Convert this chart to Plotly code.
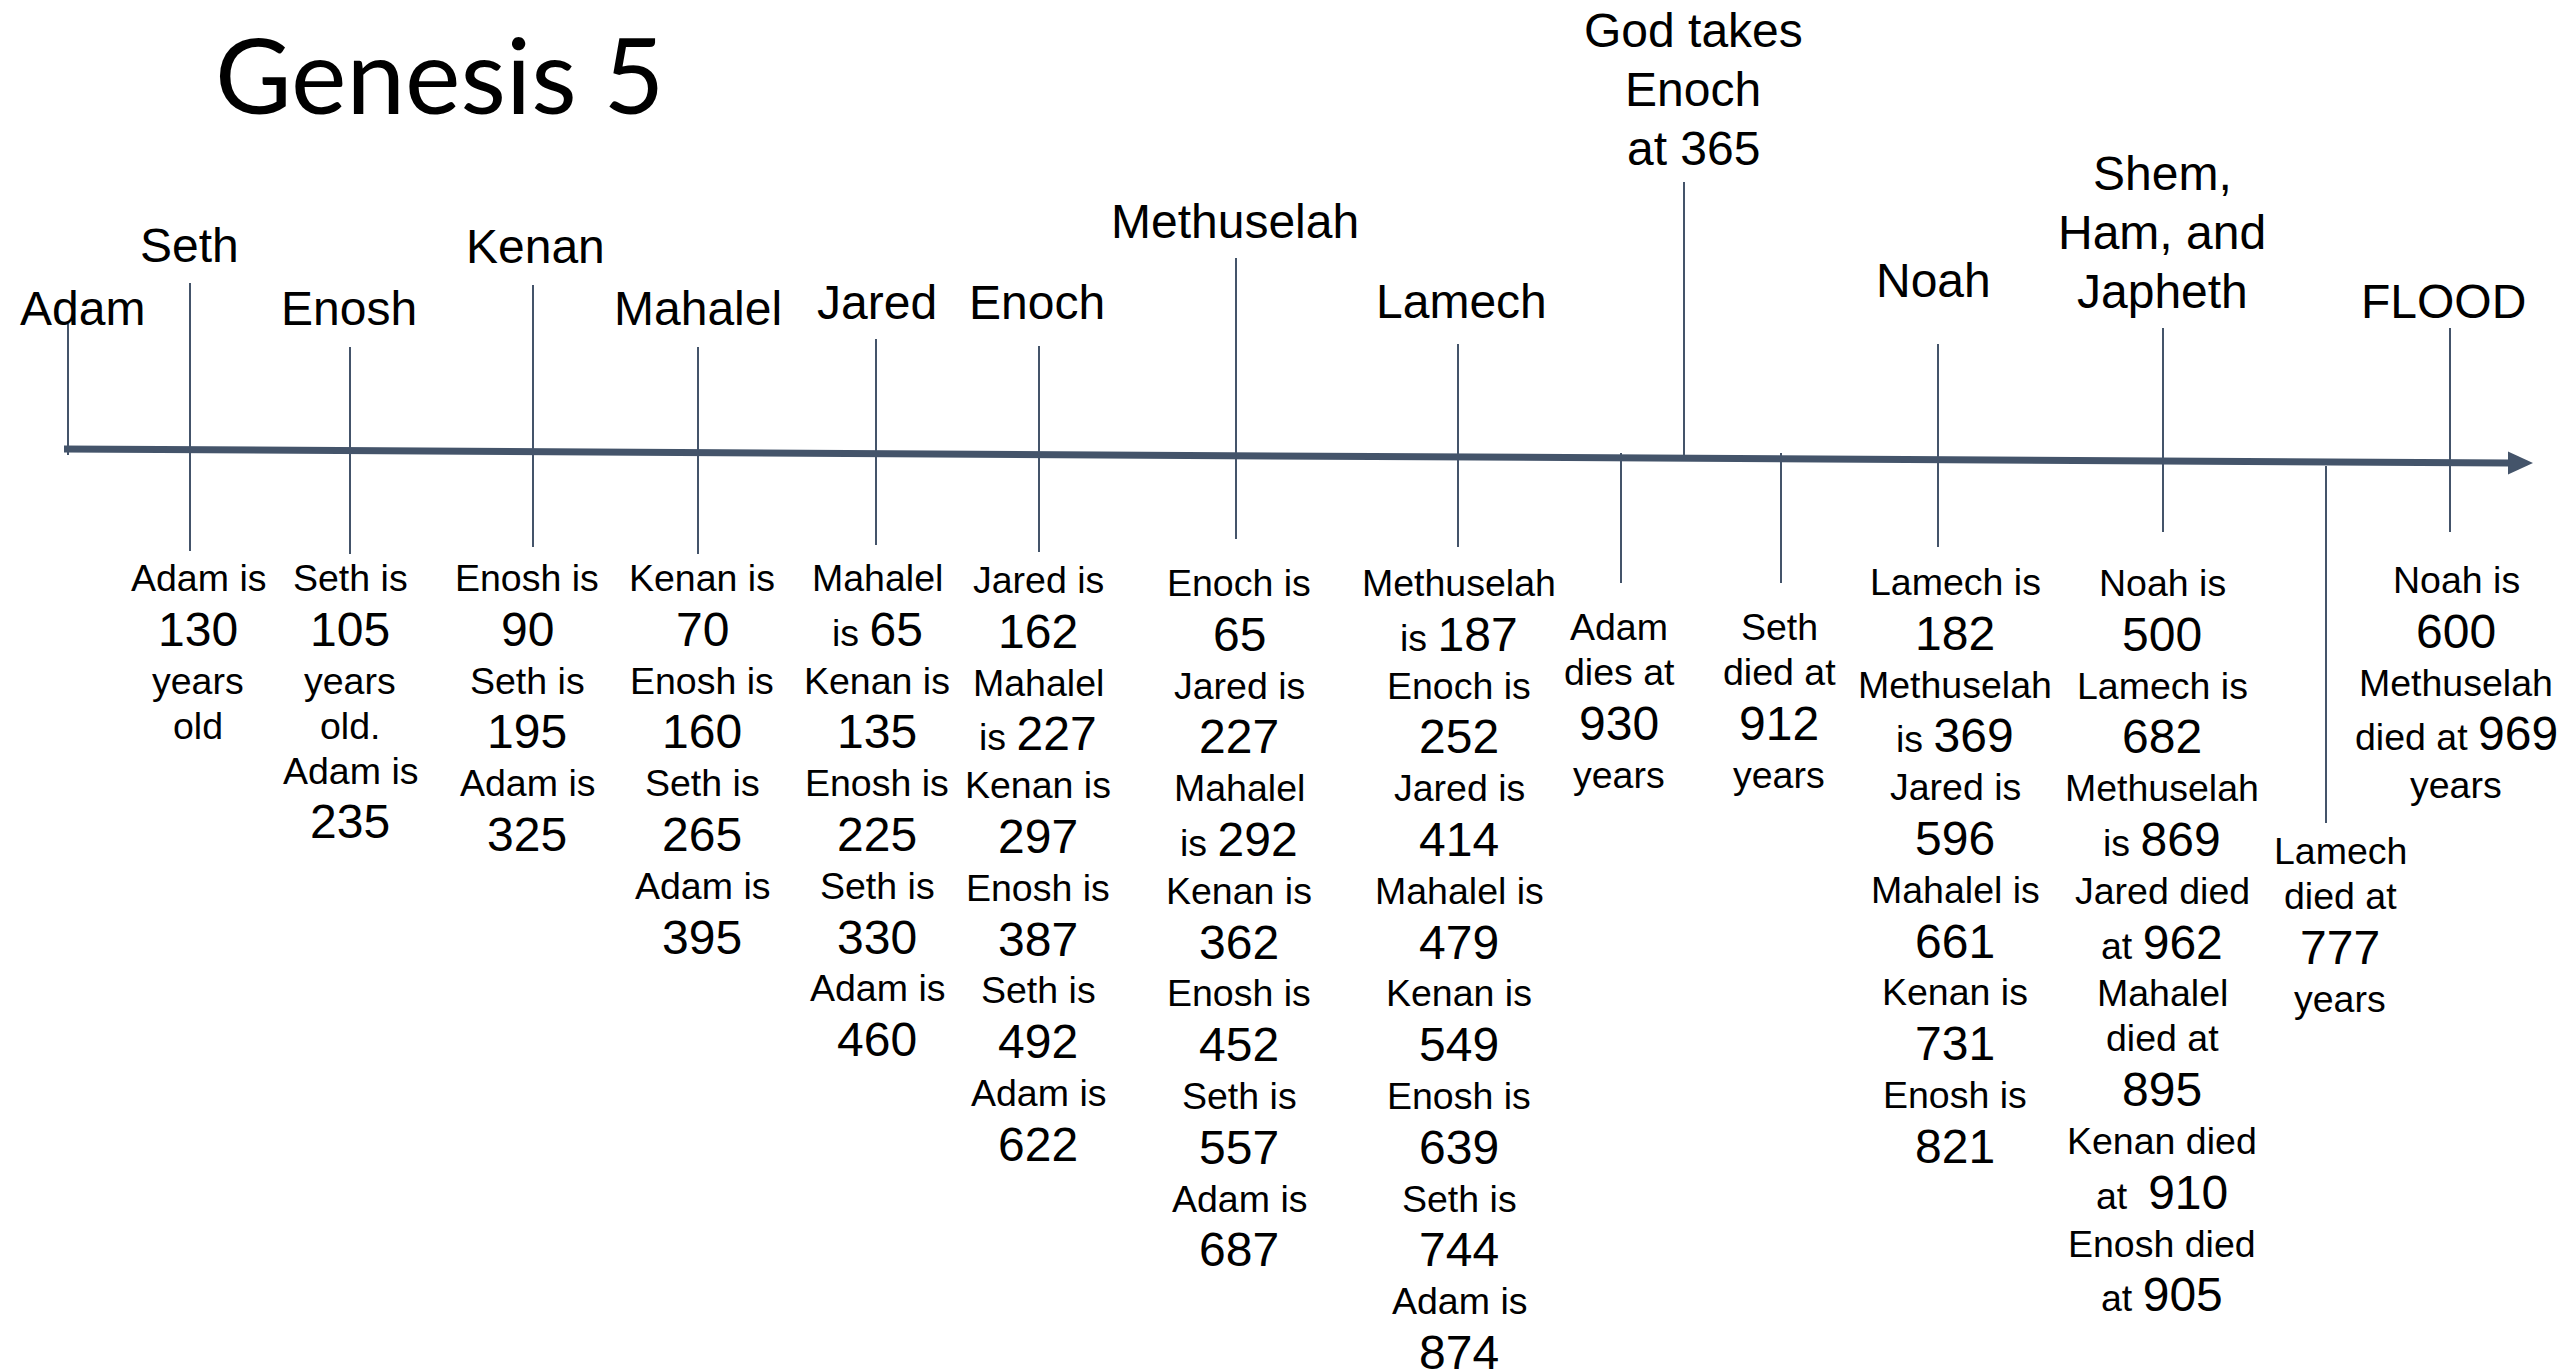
import re
import plotly.graph_objects as go

# ---------------- data ----------------
title_text = "Genesis 5"

# label written above each tick of the timeline ("" = none)
event_labels = [
    "Adam", "Seth", "Enosh", "Kenan", "Mahalel", "Jared", "Enoch", "Methuselah",
    "Lamech", "", "God takes|Enoch|at 365", "", "Noah", "Shem,|Ham, and|Japheth",
    "", "FLOOD",
]

# notes written below each tick (one string per text line)
event_notes = [
    [],
    ["Adam is", "130", "years", "old"],
    ["Seth is", "105", "years", "old.", "Adam is", "235"],
    ["Enosh is", "90", "Seth is", "195", "Adam is", "325"],
    ["Kenan is", "70", "Enosh is", "160", "Seth is", "265", "Adam is", "395"],
    ["Mahalel", "is 65", "Kenan is", "135", "Enosh is", "225", "Seth is", "330",
     "Adam is", "460"],
    ["Jared is", "162", "Mahalel", "is 227", "Kenan is", "297", "Enosh is", "387",
     "Seth is", "492", "Adam is", "622"],
    ["Enoch is", "65", "Jared is", "227", "Mahalel", "is 292", "Kenan is", "362",
     "Enosh is", "452", "Seth is", "557", "Adam is", "687"],
    ["Methuselah", "is 187", "Enoch is", "252", "Jared is", "414", "Mahalel is", "479",
     "Kenan is", "549", "Enosh is", "639", "Seth is", "744", "Adam is", "874"],
    ["Adam", "dies at", "930", "years"],
    [],
    ["Seth", "died at", "912", "years"],
    ["Lamech is", "182", "Methuselah", "is 369", "Jared is", "596", "Mahalel is", "661",
     "Kenan is", "731", "Enosh is", "821"],
    ["Noah is", "500", "Lamech is", "682", "Methuselah", "is 869", "Jared died",
     "at 962", "Mahalel", "died at", "895", "Kenan died", "at\u00a0 910",
     "Enosh died", "at 905"],
    ["Lamech", "died at", "777", "years"],
    ["Noah is", "600", "Methuselah", "died at 969", "years"],
]

# ---------------- layout (slide geometry, px) ----------------
W, H = 2557, 1370
tick_x      = [68, 190, 350, 533, 698, 876, 1039, 1236, 1458, 1621, 1684, 1781, 1938, 2163, 2326, 2450]
tick_top    = [324, 283, 347, 285, 347, 339, 346, 258, 344, 453, 182, 453, 344, 328, 466, 328]
tick_bottom = [455, 551, 554, 547, 554, 545, 552, 539, 547, 583, 455, 583, 547, 532, 823, 532]
label_x  = [82, 189, 349, 535, 698, 877, 1037, 1235, 1461, None, 1693, None, 1933, 2162, None, 2443]
label_y0 = [308, 245, 308, 246, 308, 302, 302, 221, 301, None, 30, None, 280, 173, None, 301]
note_x  = [None, 198, 350, 527, 702, 877, 1038, 1239, 1459, 1619, None, 1779, 1955, 2162, 2340, 2456]
note_y0 = [None, 578, 578, 578, 578, 578, 580, 583, 583, 627, None, 627, 582, 583, 851, 580]

axis_start = (64, 449)
axis_end = (2509, 463)
arrow_len, arrow_half = 24, 11.5

LINE_COLOR = "#44546A"
TXT_FONT = "Liberation Sans, Arial, sans-serif"
BIG, SMALL = 48, 37.5
H_SMALL, H_BIG = 45.0, 57.6
LABEL_SPACING = 59

fig = go.Figure()

# main timeline
fig.add_trace(go.Scatter(
    x=[axis_start[0], axis_end[0]], y=[axis_start[1], axis_end[1]],
    mode="lines", line=dict(color=LINE_COLOR, width=7), hoverinfo="skip"))
# arrow head
ax, ay = axis_end
fig.add_trace(go.Scatter(
    x=[ax - 1, ax + arrow_len, ax - 1, ax - 1],
    y=[ay - arrow_half, ay, ay + arrow_half, ay - arrow_half],
    mode="lines", fill="toself", fillcolor=LINE_COLOR,
    line=dict(color=LINE_COLOR, width=0), hoverinfo="skip"))

# ticks
tx, ty = [], []
for x, t, b in zip(tick_x, tick_top, tick_bottom):
    tx += [x, x, None]
    ty += [t, b, None]
fig.add_trace(go.Scatter(x=tx, y=ty, mode="lines",
                         line=dict(color=LINE_COLOR, width=2), hoverinfo="skip"))

annotations = []

# title
annotations.append(dict(
    x=439, y=73, xref="x", yref="y", text=title_text, showarrow=False,
    xanchor="center", yanchor="middle",
    font=dict(family="Lato, Carlito, sans-serif", size=105, color="black")))

# labels above
for lab, x, y0 in zip(event_labels, label_x, label_y0):
    if not lab:
        continue
    for i, line in enumerate(lab.split("|")):
        annotations.append(dict(
            x=x, y=y0 + i * LABEL_SPACING, xref="x", yref="y", text=line,
            showarrow=False, xanchor="center", yanchor="middle",
            font=dict(family=TXT_FONT, size=BIG, color="black")))

# notes below
def fmt(line):
    if re.fullmatch(r"\d+", line):
        return line, BIG, True
    if re.search(r"\d", line):
        return re.sub(r"(\d+)", r'<span style="font-size:%gpx">\1</span>' % BIG, line), SMALL, True
    return line, SMALL, False

for notes, x, y0 in zip(event_notes, note_x, note_y0):
    if not notes:
        continue
    y = y0
    prev_h = None
    for line in notes:
        txt, size, big = fmt(line)
        h = H_BIG if big else H_SMALL
        if prev_h is not None:
            y += (prev_h + h) / 2
        prev_h = h
        annotations.append(dict(
            x=x, y=y, xref="x", yref="y", text=txt, showarrow=False,
            xanchor="center", yanchor="middle",
            font=dict(family=TXT_FONT, size=size, color="black")))

fig.update_layout(
    width=W, height=H,
    margin=dict(l=0, r=0, t=0, b=0, pad=0),
    paper_bgcolor="white", plot_bgcolor="white",
    showlegend=False,
    xaxis=dict(range=[0, W], visible=False, fixedrange=True),
    yaxis=dict(range=[H, 0], visible=False, fixedrange=True),
    annotations=annotations,
)

fig.write_html("out.html", config={"displayModeBar": False},
               post_script="document.body.style.margin='0';document.body.style.overflow='hidden';")
